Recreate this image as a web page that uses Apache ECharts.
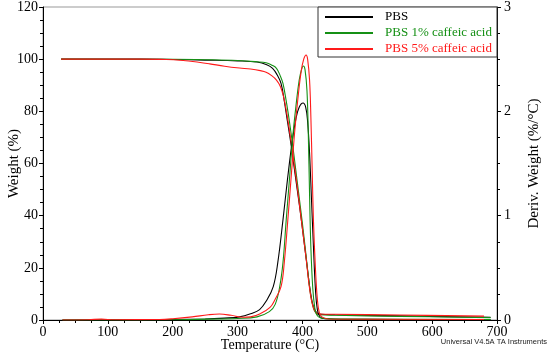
<!DOCTYPE html>
<html>
<head>
<meta charset="utf-8">
<script src="https://cdn.jsdelivr.net/npm/echarts@6/dist/echarts.min.js"></script>
<style>html,body{margin:0;padding:0;background:#fff}#c{width:550px;height:357px}</style>
</head>
<body>
<div id="c"></div>
<script>
const seriesNames = ['PBS', 'PBS 1% caffeic acid', 'PBS 5% caffeic acid'];
const seriesColors = ['#000000', '#159015', '#ff1a1a'];
const xTicks = [0, 100, 200, 300, 400, 500, 600, 700];
const weightTicks = [0, 20, 40, 60, 80, 100, 120];
const derivTicks = [0, 1, 2, 3];

// Weight (%) vs temperature (°C)
const pbsWeight = [[28,100],[150,100],[200,99.9],[250,99.65],[300,99.35],[330,98.9],[345,97.9],[354,96.5],[361,94],[367,90.7],[372,84],[377,76],[382,68],[387,59],[392,50],[397,41],[402,31],[407,21],[411,13],[415,7],[419,3.8],[423,2.6],[428,2.2],[450,2.0],[550,1.6],[690,1.0]];
const pbs1Weight = [[28,100],[200,99.95],[250,99.8],[300,99.5],[330,99.0],[344,98.6],[352,97.8],[360,96.5],[366,93.5],[370,90.7],[375,84],[380,76],[385,67],[390,57],[395,47],[400,37],[405,26],[409,17],[413,9],[417,4.5],[421,2.6],[426,2.0],[450,1.8],[550,1.4],[690,0.9]];
const pbs5Weight = [[28,100],[150,100],[190,99.9],[216,99.5],[240,98.8],[257,98.2],[280,97.3],[303,96.6],[320,96.2],[335,95.6],[344,95],[352,93.8],[360,92],[366,89.5],[371,85.5],[376,79],[381,71],[386,62],[391,53],[396,43],[401,33],[406,23],[410,14],[414,7.5],[418,4],[422,2.6],[428,2.3],[450,2.2],[550,1.9],[680,1.5]];

// Derivative weight (%/°C) vs temperature (°C)
const pbsDeriv = [[30,0],[150,0.002],[250,0.01],[280,0.018],[303,0.03],[320,0.06],[334,0.10],[345,0.19],[355,0.32],[362,0.55],[370,0.96],[377,1.35],[384,1.7],[390,1.93],[395,2.04],[401,2.08],[405,2.04],[408,1.9],[411,1.6],[414,1.15],[417,0.7],[420,0.3],[423,0.1],[427,0.03],[435,0.012],[500,0.006],[690,0.004]];
const pbs1Deriv = [[30,0],[200,0.003],[250,0.008],[300,0.015],[330,0.03],[349,0.08],[358,0.15],[365,0.32],[370,0.55],[375,0.96],[380,1.35],[385,1.75],[390,2.05],[395,2.3],[399,2.41],[401.5,2.435],[404,2.4],[407,2.2],[409,1.8],[411,1.2],[413,0.7],[416,0.3],[419,0.12],[422,0.05],[428,0.02],[450,0.01],[690,0.005]];
const pbs5Deriv = [[30,0],[70,0.003],[90,0.008],[110,0.003],[180,0.005],[200,0.012],[230,0.03],[255,0.05],[272,0.057],[290,0.045],[308,0.026],[320,0.03],[335,0.06],[350,0.12],[358,0.2],[367,0.32],[372,0.55],[377.5,0.96],[383,1.4],[388,1.8],[393,2.12],[398,2.38],[402,2.5],[405.7,2.54],[408,2.5],[411,2.3],[413,1.95],[415,1.45],[417,0.95],[420,0.5],[423,0.2],[426,0.07],[430,0.03],[440,0.01],[680,0.005]];

const serif = 'Liberation Serif, Times New Roman, serif';
const chart = echarts.init(document.getElementById('c'), null, {renderer: 'canvas'});

function line(name, data, color, yIdx) {
  return {
    name: name, type: 'line', yAxisIndex: yIdx, data: data,
    showSymbol: false, symbol: 'none', smooth: 0.4,
    lineStyle: {color: color, width: 1.1}, itemStyle: {color: color},
    animation: false
  };
}

const axisCommon = {
  axisLine: {show: true, lineStyle: {color: '#000', width: 1}},
  axisTick: {show: true, inside: false, length: 4, lineStyle: {color: '#000'}},
  minorTick: {show: true, splitNumber: 4, length: 3, lineStyle: {color: '#000'}},
  splitLine: {show: false},
  nameMoveOverlap: false,
  axisLabel: {color: '#000', fontFamily: serif, fontSize: 14},
  nameTextStyle: {color: '#000', fontFamily: serif, fontSize: 15}
};

chart.setOption({
  animation: false,
  backgroundColor: '#fff',
  grid: {left: 43, right: 53, top: 7, bottom: 37, containLabel: false, outerBoundsMode: 'none', show: true, borderColor: '#999', borderWidth: 1},
  xAxis: Object.assign({}, axisCommon, {
    type: 'value', min: xTicks[0], max: xTicks[xTicks.length-1], interval: 100,
    name: 'Temperature (°C)', nameLocation: 'middle', nameGap: 18,
    nameTextStyle: {color: '#000', fontFamily: serif, fontSize: 14},
    axisLabel: Object.assign({}, axisCommon.axisLabel, {margin: 5})
  }),
  yAxis: [
    Object.assign({}, axisCommon, {
      type: 'value', position: 'left', min: weightTicks[0], max: weightTicks[weightTicks.length-1], interval: 20,
      name: 'Weight (%)', nameLocation: 'middle', nameGap: 21, nameRotate: 90,
      axisLabel: Object.assign({}, axisCommon.axisLabel, {margin: 5})
    }),
    Object.assign({}, axisCommon, {
      type: 'value', position: 'right', min: derivTicks[0], max: derivTicks[derivTicks.length-1], interval: 1,
      name: 'Deriv. Weight (%/°C)', nameLocation: 'middle', nameGap: 30, nameRotate: 90,
      axisLabel: Object.assign({}, axisCommon.axisLabel, {margin: 7})
    })
  ],
  legend: {
    orient: 'vertical', left: 325, top: 9, padding: 0, itemGap: 0,
    itemWidth: 48, itemHeight: 2, icon: 'rect',
    data: seriesNames.map((n, i) => ({name: n, textStyle: {color: seriesColors[i]}})),
    textStyle: {fontFamily: serif, fontSize: 13, lineHeight: 16, padding: [0, 0, 0, 7]},
    selectedMode: false
  },
  graphic: [
    {type: 'rect', shape: {x: 318, y: 7, width: 179, height: 50}, style: {fill: '#fff', stroke: '#333', lineWidth: 1}, z: 1},
    {type: 'text', right: 3, top: 338, style: {text: 'Universal V4.5A TA Instruments', fill: '#222', font: '7.5px "Liberation Sans", Arial, sans-serif'}}
  ],
  series: [
    line(seriesNames[0], pbsWeight, seriesColors[0], 0),
    line(seriesNames[1], pbs1Weight, seriesColors[1], 0),
    line(seriesNames[2], pbs5Weight, seriesColors[2], 0),
    line(seriesNames[0], pbsDeriv, seriesColors[0], 1),
    line(seriesNames[1], pbs1Deriv, seriesColors[1], 1),
    line(seriesNames[2], pbs5Deriv, seriesColors[2], 1)
  ]
});
</script>
</body>
</html>
